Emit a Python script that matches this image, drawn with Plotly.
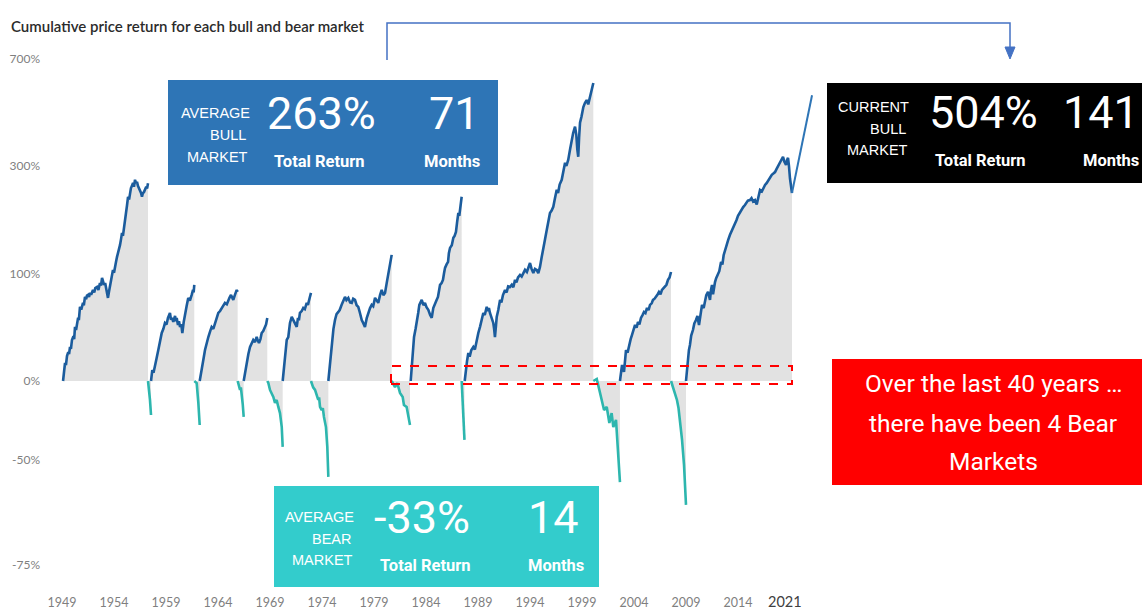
import plotly.graph_objects as go

# ---------------- data (year, cumulative return in %) ----------------
bull_1949 = [(1949.10, 0), (1949.20, 7.5), (1949.29, 12.3), (1949.38, 10.8), (1949.48, 17.5),
             (1949.60, 20.5), (1949.68, 19.0), (1949.77, 24.5), (1949.86, 23.0), (1949.96, 30.3),
             (1950.10, 33.5), (1950.17, 31.0), (1950.25, 41.7), (1950.35, 39.0), (1950.44, 46.3),
             (1950.55, 50.5), (1950.62, 48.0), (1950.73, 61.3), (1950.85, 58.5), (1951.02, 65.5),
             (1951.10, 63.0), (1951.21, 72.0), (1951.32, 69.5), (1951.40, 73.5), (1951.50, 74.2),
             (1951.60, 72.0), (1951.69, 76.5), (1951.80, 74.5), (1951.98, 79.9), (1952.10, 77.0),
             (1952.20, 82.0), (1952.37, 83.4), (1952.50, 80.0), (1952.65, 88.2), (1952.75, 85.0),
             (1952.85, 94.4), (1952.95, 90.0), (1953.04, 85.8), (1953.15, 88.0), (1953.33, 76.5),
             (1953.42, 70.9), (1953.52, 78.0), (1953.62, 84.6), (1953.75, 92.0), (1953.90, 104.7),
             (1954.00, 101.0), (1954.10, 111.3), (1954.20, 116.0), (1954.29, 122.6), (1954.40, 128.0),
             (1954.50, 135.0), (1954.58, 140.5), (1954.68, 150.0), (1954.77, 159.9), (1954.86, 155.0),
             (1954.96, 172.0), (1955.06, 188.0), (1955.15, 195.0), (1955.25, 210.0), (1955.35, 228.0),
             (1955.45, 222.0), (1955.55, 240.0), (1955.63, 247.0), (1955.73, 252.0), (1955.83, 258.9),
             (1955.92, 250.0), (1956.02, 266.0), (1956.12, 258.0), (1956.21, 261.0), (1956.30, 252.0),
             (1956.40, 247.0), (1956.50, 243.0), (1956.60, 236.0), (1956.69, 228.0), (1956.78, 236.0),
             (1956.88, 238.0), (1956.98, 243.0), (1957.10, 250.0), (1957.18, 246.0), (1957.27, 258.0)]
bear_1957 = [(1957.27, 0), (1957.37, -5.6), (1957.46, -11.5), (1957.56, -19.7)]
bull_1957 = [(1957.56, 0), (1957.68, 7.3), (1957.80, 5.5), (1957.94, 9.5), (1958.10, 16.0),
             (1958.26, 22.1), (1958.42, 30.0), (1958.59, 36.3), (1958.75, 40.0), (1958.90, 45.4),
             (1959.05, 44.0), (1959.19, 50.2), (1959.38, 55.1), (1959.48, 48.5), (1959.58, 50.2),
             (1959.70, 46.3), (1959.87, 52.1), (1959.95, 47.0), (1960.03, 50.2), (1960.15, 43.5),
             (1960.25, 47.0), (1960.35, 41.7), (1960.47, 44.0), (1960.57, 36.3), (1960.70, 46.0),
             (1960.83, 55.1), (1960.98, 62.0), (1961.14, 70.9), (1961.30, 68.0), (1961.47, 74.2),
             (1961.60, 79.9), (1961.66, 77.0), (1961.72, 85.8)]
bear_1961 = [(1961.72, 0), (1961.95, -1.3), (1962.11, -13.2), (1962.24, -24.7)]
bull_1962 = [(1962.24, 0), (1962.43, 9.5), (1962.60, 15.0), (1962.75, 22.1), (1962.90, 28.0),
             (1963.07, 32.8), (1963.25, 38.0), (1963.39, 41.7), (1963.55, 40.0), (1963.71, 45.4),
             (1963.88, 50.0), (1964.03, 55.1), (1964.20, 57.0), (1964.36, 60.2), (1964.50, 63.0),
             (1964.67, 65.5), (1964.85, 64.0), (1964.99, 68.7), (1965.10, 71.0), (1965.25, 74.2),
             (1965.38, 70.0), (1965.47, 68.7), (1965.62, 74.0), (1965.80, 79.9), (1965.89, 77.6)]
bear_1966 = [(1965.89, 0), (1966.00, -3.0), (1966.12, -5.6), (1966.20, -4.0), (1966.28, -11.5),
             (1966.38, -14.0), (1966.47, -20.7)]
bull_1966 = [(1966.47, 0), (1966.60, 6.0), (1966.76, 12.3), (1966.92, 19.0), (1967.08, 24.5),
             (1967.22, 27.0), (1967.39, 30.3), (1967.55, 28.5), (1967.72, 32.8), (1967.82, 30.0),
             (1967.94, 27.8), (1968.08, 31.0), (1968.20, 36.3), (1968.35, 38.0), (1968.52, 41.7),
             (1968.62, 44.0), (1968.74, 50.2)]
bear_1968 = [(1968.74, 0), (1968.84, -1.3), (1969.00, -5.6), (1969.16, -7.4), (1969.32, -9.8),
             (1969.48, -13.2), (1969.64, -11.5), (1969.80, -15.4), (1969.96, -18.7),
             (1970.13, -25.7), (1970.22, -34.6)]
bull_1970 = [(1970.22, 0), (1970.44, 16.7), (1970.61, 30.3), (1970.76, 32.8), (1970.92, 45.4),
             (1971.09, 51.2), (1971.20, 49.0), (1971.31, 48.2), (1971.45, 44.0), (1971.57, 41.7),
             (1971.69, 50.2), (1971.78, 48.0), (1971.88, 55.1), (1972.05, 57.0), (1972.20, 60.2),
             (1972.35, 59.0), (1972.53, 65.5), (1972.65, 63.4), (1972.75, 68.0), (1972.85, 74.2),
             (1972.94, 76.5)]
bear_1973 = [(1972.94, 0), (1973.01, -1.3), (1973.15, -4.0), (1973.33, -5.6), (1973.50, -9.0),
             (1973.64, -11.5), (1973.72, -10.0), (1973.81, -15.4), (1973.97, -17.1), (1974.08, -16.0),
             (1974.19, -20.7), (1974.38, -25.7), (1974.51, -34.6), (1974.61, -46.1)]
bull_1974 = [(1974.61, 0), (1974.77, 12.3), (1974.93, 30.3), (1975.10, 40.0), (1975.25, 48.2),
             (1975.40, 54.0), (1975.57, 56.1), (1975.70, 58.0), (1975.89, 63.4), (1976.05, 67.0),
             (1976.21, 72.0), (1976.35, 68.5), (1976.53, 70.9), (1976.70, 66.0), (1976.86, 65.5),
             (1977.00, 70.0), (1977.17, 68.7), (1977.33, 63.0), (1977.49, 61.3), (1977.65, 55.0),
             (1977.82, 48.2), (1977.98, 45.0), (1978.13, 41.7), (1978.30, 50.0), (1978.45, 55.1),
             (1978.62, 60.0), (1978.78, 63.4), (1978.92, 62.0), (1979.10, 70.9), (1979.25, 68.0),
             (1979.41, 65.5), (1979.58, 74.0), (1979.74, 79.9), (1979.90, 74.0), (1980.06, 76.5),
             (1980.22, 88.0), (1980.38, 100.8), (1980.55, 112.0), (1980.70, 125.5)]
bear_1980 = [(1980.70, 0), (1981.02, -3.8), (1981.24, -1.3), (1981.50, -7.4), (1981.76, -9.8),
             (1981.88, -14.3), (1982.14, -15.4), (1982.30, -20.7), (1982.46, -24.7)]
bull_1982 = [(1982.53, 0), (1982.72, 22.1), (1982.85, 32.8), (1983.00, 40.0), (1983.11, 45.4),
             (1983.25, 55.0), (1983.36, 63.4), (1983.48, 66.0), (1983.59, 68.7), (1983.75, 63.0),
             (1983.90, 65.5), (1984.05, 61.0), (1984.22, 58.2), (1984.40, 53.0), (1984.55, 50.2),
             (1984.70, 60.0), (1984.87, 65.5), (1985.00, 68.0), (1985.15, 72.0), (1985.25, 80.0),
             (1985.35, 85.8), (1985.50, 88.0), (1985.63, 91.9), (1985.73, 100.0), (1985.83, 107.4),
             (1985.98, 112.0), (1986.12, 115.5), (1986.20, 128.0), (1986.31, 135.9), (1986.48, 140.0),
             (1986.63, 151.7), (1986.75, 155.0), (1986.88, 161.6), (1987.00, 180.0), (1987.11, 195.5),
             (1987.20, 190.0), (1987.27, 201.3), (1987.35, 215.0), (1987.43, 228.0)]
bear_1987 = [(1987.43, 0), (1987.51, -8.6), (1987.60, -22.2), (1987.70, -31.6)]
bull_1987 = [(1987.72, 0), (1987.80, 6.0), (1987.85, 9.5), (1987.95, 14.0), (1988.07, 19.8),
             (1988.20, 17.0), (1988.35, 22.0), (1988.55, 24.5), (1988.70, 22.5), (1988.85, 30.0),
             (1989.03, 36.3), (1989.20, 42.0), (1989.35, 49.0), (1989.51, 55.1), (1989.65, 53.0),
             (1989.84, 61.3), (1989.95, 57.0), (1990.05, 60.0), (1990.15, 55.1), (1990.30, 50.0),
             (1990.47, 45.4), (1990.55, 40.0), (1990.63, 32.8), (1990.72, 42.0), (1990.80, 51.2),
             (1990.95, 58.0), (1991.12, 68.7), (1991.25, 66.0), (1991.40, 74.0), (1991.60, 79.9),
             (1991.75, 77.0), (1991.90, 84.0), (1992.08, 83.4), (1992.25, 86.0), (1992.40, 83.0),
             (1992.56, 91.9), (1992.70, 89.0), (1992.85, 95.0), (1993.04, 98.2), (1993.20, 96.0),
             (1993.35, 101.0), (1993.52, 104.7), (1993.70, 102.0), (1993.85, 109.0), (1994.00, 114.0),
             (1994.15, 106.0), (1994.32, 100.8), (1994.48, 106.0), (1994.64, 104.7), (1994.80, 100.5),
             (1994.96, 108.7), (1995.12, 122.0), (1995.28, 137.5), (1995.45, 150.0), (1995.61, 164.6),
             (1995.75, 176.0), (1995.92, 195.5), (1996.08, 200.0), (1996.24, 207.5), (1996.40, 225.0),
             (1996.57, 243.1), (1996.70, 236.0), (1996.85, 255.0), (1997.05, 266.0), (1997.20, 290.0),
             (1997.37, 308.5), (1997.50, 300.0), (1997.68, 316.5), (1997.85, 345.0), (1998.01, 373.9),
             (1998.15, 395.0), (1998.33, 415.4), (1998.45, 390.0), (1998.55, 345.0), (1998.64, 324.6),
             (1998.72, 380.0), (1998.81, 429.0), (1998.95, 450.0), (1999.13, 485.0), (1999.28, 500.0),
             (1999.45, 512.0), (1999.60, 495.0), (1999.77, 524.0), (1999.92, 545.0), (2000.02, 570.0),
             (2000.09, 583.0)]
bear_2000 = [(2000.09, 0), (2000.42, 1.3), (2000.67, -5.6), (2000.89, -11.5), (2001.12, -17.1),
             (2001.38, -15.4), (2001.63, -23.7), (2001.85, -18.7), (2002.01, -25.7), (2002.27, -22.2),
             (2002.39, -31.6), (2002.53, -41.1), (2002.65, -47.9)]
bull_2002 = [(2002.65, 0), (2002.85, 10.9), (2002.95, 8.0), (2003.04, 6.0), (2003.15, 15.0),
             (2003.23, 22.1), (2003.38, 20.0), (2003.52, 26.1), (2003.68, 31.0), (2003.81, 34.6),
             (2003.95, 40.0), (2004.10, 43.5), (2004.25, 41.0), (2004.38, 46.3), (2004.52, 44.0),
             (2004.67, 50.2), (2004.82, 53.0), (2004.96, 56.1), (2005.10, 55.0), (2005.25, 60.2),
             (2005.40, 58.0), (2005.54, 63.4), (2005.70, 65.0), (2005.83, 68.7), (2005.98, 70.0),
             (2006.12, 72.0), (2006.28, 75.0), (2006.40, 77.6), (2006.55, 75.0), (2006.69, 79.9),
             (2006.85, 82.0), (2006.98, 83.4), (2007.12, 86.0), (2007.27, 91.9), (2007.42, 95.0),
             (2007.56, 101.9)]
bear_2007 = [(2007.56, 0), (2007.70, -3.0), (2007.85, -5.6), (2008.00, -8.0), (2008.13, -11.5),
             (2008.28, -16.0), (2008.42, -22.2), (2008.62, -31.6), (2008.81, -41.8), (2009.00, -55.0)]
bull_2009 = [(2009.00, 0), (2009.10, 9.0), (2009.19, 14.5), (2009.28, 22.0), (2009.38, 26.1),
             (2009.50, 34.0), (2009.67, 38.9), (2009.80, 45.0), (2009.96, 48.2), (2010.10, 52.0),
             (2010.25, 43.5), (2010.40, 55.0), (2010.54, 63.4), (2010.70, 60.0), (2010.83, 68.7),
             (2010.95, 74.0), (2011.12, 77.6), (2011.22, 72.0), (2011.31, 68.7), (2011.40, 80.0),
             (2011.50, 85.8), (2011.60, 75.0), (2011.70, 84.0), (2011.79, 89.2), (2011.90, 94.0),
             (2012.08, 98.2), (2012.20, 103.0), (2012.37, 115.5), (2012.50, 112.0), (2012.62, 125.0),
             (2012.75, 132.6), (2012.90, 140.0), (2013.05, 148.0), (2013.23, 156.6), (2013.40, 163.0),
             (2013.55, 168.0), (2013.71, 173.3), (2013.85, 182.0), (2014.00, 190.0), (2014.19, 197.1),
             (2014.35, 203.0), (2014.50, 207.0), (2014.67, 211.1), (2014.80, 215.0), (2014.95, 220.0),
             (2015.15, 221.0), (2015.30, 225.0), (2015.45, 218.0), (2015.63, 221.0), (2015.80, 212.0),
             (2015.95, 226.0), (2016.12, 243.0), (2016.30, 240.0), (2016.45, 249.0), (2016.60, 254.0),
             (2016.75, 258.0), (2016.90, 265.0), (2017.08, 270.5), (2017.25, 278.0), (2017.40, 281.0),
             (2017.56, 284.6), (2017.70, 292.0), (2017.85, 300.0), (2018.04, 310.3), (2018.18, 318.0),
             (2018.33, 324.6), (2018.45, 312.0), (2018.62, 302.6), (2018.72, 316.0), (2018.81, 321.7),
             (2018.90, 300.0), (2019.00, 269.0), (2019.19, 236.0)]
current_bull_extension = [(2019.19, 236.0), (2021.12, 531.0)]

segments = [("bull", bull_1949), ("bear", bear_1957), ("bull", bull_1957), ("bear", bear_1961),
            ("bull", bull_1962), ("bear", bear_1966), ("bull", bull_1966), ("bear", bear_1968),
            ("bull", bull_1970), ("bear", bear_1973), ("bull", bull_1974), ("bear", bear_1980),
            ("bull", bull_1982), ("bear", bear_1987), ("bull", bull_1987), ("bear", bear_2000),
            ("bull", bull_2002), ("bear", bear_2007), ("bull", bull_2009)]

y_tick_labels = ["700%", "300%", "100%", "0%", "-50%", "-75%"]
y_tick_vals = [8.0, 4.0, 2.0, 1.0, 0.60, 0.305]
x_tick_labels = ["1949", "1954", "1959", "1964", "1969", "1974", "1979", "1984", "1989",
                 "1994", "1999", "2004", "2009", "2014",
                 "<span style='font-size:14.5px;color:#404040'>2021</span>"]
x_tick_vals = [1949, 1954, 1959, 1964, 1969, 1974, 1979, 1984, 1989, 1994, 1999, 2004, 2009,
               2014, 2018.5]

# ---------------- style ----------------
W, H = 1142, 613
ML, MR, MT, MB = 55, 322, 40, 30
BULL_C = "#1b5c9d"
BEAR_C = "#2db6ae"
FILL_C = "#e2e2e2"
NARROW = "Roboto, Liberation Sans, Arial, sans-serif"
ARIAL = "Liberation Sans, Arial, sans-serif"
LATO = "Lato, Liberation Sans, sans-serif"


def px(x):
    return (x - ML) / (W - ML - MR)


def py(y):
    return (H - MB - y) / (H - MT - MB)


fig = go.Figure()

for kind, seg in segments:
    xs = [p[0] for p in seg]
    ys = [1 + p[1] / 100 for p in seg]
    fig.add_trace(go.Scatter(x=xs + [xs[-1], xs[0]], y=ys + [1, 1], fill="toself",
                             fillcolor=FILL_C, line=dict(width=0), mode="lines",
                             hoverinfo="skip", showlegend=False))

for kind, seg in segments:
    xs = [p[0] for p in seg]
    ys = [1 + p[1] / 100 for p in seg]
    fig.add_trace(go.Scatter(x=xs, y=ys, mode="lines", showlegend=False,
                             line=dict(color=BULL_C if kind == "bull" else BEAR_C, width=2.6)))

fig.add_trace(go.Scatter(x=[p[0] for p in current_bull_extension],
                         y=[1 + p[1] / 100 for p in current_bull_extension],
                         mode="lines", showlegend=False,
                         line=dict(color="#2e75b6", width=2)))

shapes = []
annotations = []


def box(x0, y0, x1, y1, color):
    shapes.append(dict(type="rect", xref="paper", yref="paper", x0=px(x0), x1=px(x1),
                       y0=py(y1), y1=py(y0), fillcolor=color, line=dict(width=0), layer="above"))


def text(x, y, s, size, font=ARIAL, anchor="left", color="white", bold=False, weight=None):
    if bold:
        s = "<b>" + s + "</b>"
    f = dict(family=font, size=size, color=color)
    if weight:
        f["weight"] = weight
    annotations.append(dict(xref="paper", yref="paper", x=px(x), y=py(y), text=s,
                            showarrow=False, xanchor=anchor, yanchor="middle", font=f,
                            borderpad=0))


# blue box: average bull market
box(168, 80, 498, 185, "#2e75b6")
text(251, 113, "AVERAGE", 14.5, anchor="right")
text(247, 135, "BULL", 14.5, anchor="right")
text(249, 157, "MARKET", 14.5, anchor="right")
text(266, 114, "263%", 45, NARROW)
text(481, 114, "71", 45, NARROW, anchor="right")
text(273, 161, "Total Return", 16.5, NARROW, bold=True)
text(481, 161, "Months", 16.5, NARROW, anchor="right", bold=True)

# black box: current bull market
box(827, 83, 1142, 183, "#000000")
text(910, 107, "CURRENT", 14.5, anchor="right")
text(907, 129, "BULL", 14.5, anchor="right")
text(909, 150, "MARKET", 14.5, anchor="right")
text(928, 112, "504%", 45, NARROW)
text(1140, 112, "141", 45, NARROW, anchor="right")
text(934, 160, "Total Return", 16.5, NARROW, bold=True)
text(1140, 160, "Months", 16.5, NARROW, anchor="right", bold=True)

# teal box: average bear market
box(274, 486, 599, 587, "#33cccc")
text(355, 517, "AVERAGE", 14.5, anchor="right")
text(353, 539, "BEAR", 14.5, anchor="right")
text(354, 560, "MARKET", 14.5, anchor="right")
text(373, 517, "-33%", 45, NARROW)
text(580, 517, "14", 45, NARROW, anchor="right")
text(379, 565, "Total Return", 16.5, NARROW, bold=True)
text(585, 565, "Months", 16.5, NARROW, anchor="right", bold=True)

# red box
box(832, 359, 1142, 485, "#ff0000")
text(993, 383, "Over the last 40 years \u2026", 24.5, NARROW, anchor="center")
text(993, 423, "there have been 4 Bear", 24.5, NARROW, anchor="center")
text(993, 461, "Markets", 24.5, NARROW, anchor="center")

# red dashed highlight rectangle
shapes.append(dict(type="rect", xref="paper", yref="paper", x0=px(391), x1=px(792),
                   y0=py(384), y1=py(366), line=dict(color="#ff0000", width=2, dash="dash"),
                   fillcolor="rgba(0,0,0,0)", layer="above"))

# connector arrow
CONN = "#4472c4"
shapes.append(dict(type="path", xref="paper", yref="paper",
                   path=f"M {px(387)} {py(60)} L {px(387)} {py(23)} L {px(1010)} {py(23)} L {px(1010)} {py(50)}",
                   line=dict(color=CONN, width=1.5), layer="above"))
shapes.append(dict(type="path", xref="paper", yref="paper",
                   path=f"M {px(1005)} {py(47)} L {px(1015)} {py(47)} L {px(1010)} {py(59)} Z",
                   fillcolor=CONN, line=dict(color=CONN, width=1), layer="above"))

# title
text(10, 26, "Cumulative price return for each bull and bear market", 15, LATO,
     color="#2b2b2b", weight=600)

fig.update_layout(
    width=W, height=H,
    margin=dict(l=ML, r=MR, t=MT, b=MB, pad=0, autoexpand=False),
    plot_bgcolor="white", paper_bgcolor="white",
    shapes=shapes, annotations=annotations,
    xaxis=dict(range=[1948.327, 2021.885], showgrid=False, zeroline=False, showline=False,
               automargin=False, tickmode="array", tickvals=x_tick_vals, ticktext=x_tick_labels,
               tickfont=dict(family=LATO, size=12.5, color="#7f7f7f"), ticks="",
               ticklabelstandoff=10),
    yaxis=dict(type="log", range=[-0.56566, 0.95490], showgrid=False, zeroline=False,
               showline=False, automargin=False, tickmode="array", tickvals=y_tick_vals,
               ticktext=y_tick_labels,
               tickfont=dict(family=LATO, size=12, color="#7f7f7f"), ticks="",
               ticklabelstandoff=14),
)

fig.write_html("out.html", config={"displayModeBar": False},
               post_script="document.body.style.margin='0';document.body.style.overflow='hidden';")
